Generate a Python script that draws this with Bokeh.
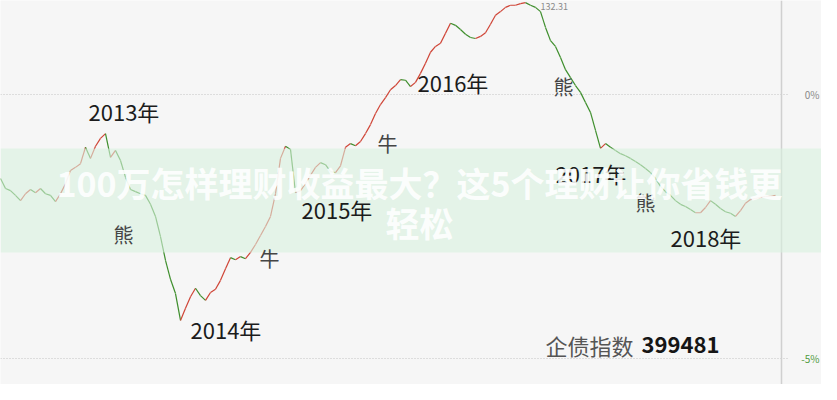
from bokeh.plotting import figure
from bokeh.models import ColumnDataSource, Range1d, Label, BoxAnnotation, Span
from bokeh.embed import file_html
from bokeh.resources import INLINE

# 企债指数 weekly change vs reference level (%)
pct = [
    -1.59, -1.78, -1.82, -1.91, -2.01, -1.88, -1.80, -1.86, -1.78, -1.88,
    -1.91, -2.03, -1.88, -1.69, -1.44, -1.38, -1.31, -1.00, -1.21, -0.98,
    -0.83, -0.74, -1.19, -1.06, -1.25, -1.57, -1.80, -1.84, -1.88, -1.91,
    -2.08, -2.31, -2.69, -3.14, -3.50, -3.77, -4.28, -4.05, -3.83, -3.67,
    -3.81, -3.90, -3.75, -3.69, -3.52, -3.30, -3.09, -3.13, -3.07, -3.11,
    -2.99, -2.84, -2.67, -2.50, -2.31, -1.88, -1.21, -0.98, -1.04, -1.86,
    -1.82, -1.69, -1.53, -1.38, -1.29, -1.33, -1.46, -1.48, -1.35, -1.00,
    -0.93, -0.97, -0.89, -0.74, -0.57, -0.36, -0.19, -0.06, 0.09, 0.17,
    0.28, 0.27, 0.15, 0.23, 0.40, 0.59, 0.80, 0.91, 0.97, 1.16,
    1.35, 1.31, 1.23, 1.14, 1.08, 1.06, 1.10, 1.17, 1.33, 1.50,
    1.57, 1.65, 1.69, 1.69, 1.72, 1.74, 1.69, 1.65, 1.57, 1.27,
    1.02, 0.91, 0.70, 0.47, 0.32, 0.17, 0.04, -0.15, -0.34, -0.68,
    -1.02, -0.93, -1.00, -1.06, -1.12, -1.16, -1.21, -1.27, -1.33, -1.40,
    -1.48, -1.59, -1.74, -1.84, -1.91, -2.01, -2.08, -2.12, -2.18, -2.24,
    -2.24, -2.14, -2.01, -2.08, -2.16, -2.22, -2.25, -2.31, -2.20, -2.06,
    -1.99, -1.97, -1.95, -1.93, -1.93, -1.91,
]
peak_label = "132.31"
year_labels = ["2013年", "2014年", "2015年", "2016年", "2017年", "2018年"]
phase_labels = ["熊", "牛", "牛", "熊", "熊"]
pct_ticks = [0, -5]
pct_tick_labels = ["0%", "-5%"]
index_name = "企债指数"
index_code = "399481"
headline_1 = "100万怎样理财收益最大？这5个理财让你省钱更"
headline_2 = "轻松"

# ---------------- layout ----------------
W, H = 821, 384
PX_PER_STEP = 5.0          # px per weekly step
PX_PER_PCT = 52.8
ZERO_Y = 94.0


def ry(y):  # pixel row -> data value
    return (ZERO_Y - y) / PX_PER_PCT


def rx(x):  # pixel column -> data index
    return x / PX_PER_STEP


def sy(y):  # pixel row (top origin) -> screen units (bottom origin)
    return H - y


CJK = "Noto Sans CJK SC"
UP, DOWN = "#cf4436", "#3e8e2c"
BG = "#f6f6f6"

p = figure(width=W, height=H, x_range=Range1d(0, rx(W)), y_range=Range1d(ry(H), ry(0)),
           output_backend="svg", toolbar_location=None, x_axis_type=None, y_axis_type=None,
           min_border=0, background_fill_color=BG, border_fill_color=BG, outline_line_color=None)

# dotted gridlines
grid_end = rx(788)
p.segment(x0=[0] * len(pct_ticks), x1=[grid_end] * len(pct_ticks), y0=pct_ticks, y1=pct_ticks,
          line_color="#c4c4c4", line_width=1, line_dash="1 2")
p.add_layout(Span(location=rx(781), dimension="height", line_color="#d0d0d0", line_width=1.5))

# price line, coloured by direction
xs = list(range(len(pct)))
src = ColumnDataSource(dict(
    x0=xs[:-1], x1=xs[1:], y0=pct[:-1], y1=pct[1:],
    c=[UP if b >= a else DOWN for a, b in zip(pct[:-1], pct[1:])],
))
p.segment(x0="x0", y0="y0", x1="x1", y1="y1", line_color="c", line_width=1.2, source=src)

# peak value
imax = max(range(len(pct)), key=lambda i: pct[i])
p.add_layout(Label(x=imax, y=pct[imax], text=peak_label, x_offset=15, y_offset=-4,
                   text_font=CJK, text_font_size="9px", text_color="#8a8a8a",
                   text_baseline="middle"))

# translucent band
p.add_layout(BoxAnnotation(top=ry(148), bottom=ry(252), fill_color="#d8f1e0", fill_alpha=0.6,
                           line_color=None))

# year labels
year_pos = [(88, 110), (190, 328), (301, 208), (417, 81), (555, 172), (670, 236)]
for t, (x, y) in zip(year_labels, year_pos):
    p.add_layout(Label(x=x, y=sy(y), x_units="screen", y_units="screen", text=t,
                       text_font=CJK, text_font_size="22px", text_color="#1c1c1c",
                       text_baseline="middle", text_align="left"))

# bull / bear labels
phase_pos = [(123, 234), (269, 258), (387, 143), (563, 86), (645, 202)]
for t, (x, y) in zip(phase_labels, phase_pos):
    p.add_layout(Label(x=x, y=sy(y), x_units="screen", y_units="screen", text=t,
                       text_font=CJK, text_font_size="20px", text_color="#454545",
                       text_baseline="middle", text_align="center"))

# right-hand percentage labels
for v, t, col in zip(pct_ticks, pct_tick_labels, ["#8a8a8a", "#4f9a3c"]):
    p.add_layout(Label(x=819, y=v, x_units="screen", y_units="data", text=t,
                       text_font=CJK, text_font_size="10px", text_color=col,
                       text_baseline="middle", text_align="right"))

# index name
p.add_layout(Label(x=545, y=sy(344), x_units="screen", y_units="screen", text=index_name,
                   text_font=CJK, text_font_size="22px", text_color="#555555",
                   text_baseline="middle", text_align="left"))
p.add_layout(Label(x=641, y=sy(344), x_units="screen", y_units="screen", text=index_code,
                   text_font=CJK, text_font_size="22px", text_font_style="bold",
                   text_color="#151515", text_baseline="middle", text_align="left"))

# white headline overlay
p.add_layout(Label(x=419, y=sy(182), x_units="screen", y_units="screen", text=headline_1,
                   text_font=CJK, text_font_size="34px", text_font_style="bold",
                   text_color="#ffffff", text_alpha=0.9, text_baseline="middle",
                   text_align="center"))
p.add_layout(Label(x=419, y=sy(222), x_units="screen", y_units="screen", text=headline_2,
                   text_font=CJK, text_font_size="34px", text_font_style="bold",
                   text_color="#ffffff", text_alpha=0.9, text_baseline="middle",
                   text_align="center"))

open("out.html", "w").write(file_html(p, INLINE))
